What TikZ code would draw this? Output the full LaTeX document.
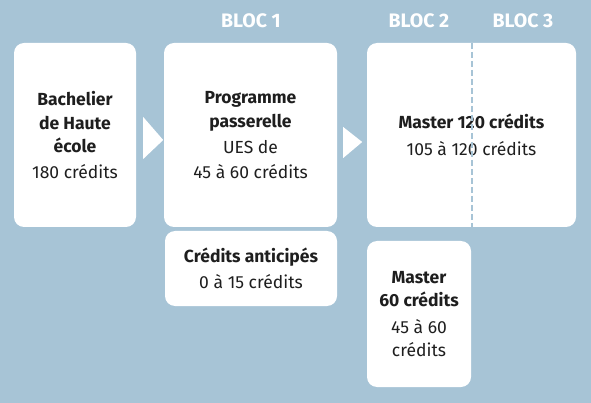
\documentclass[tikz,border=0pt]{standalone}
\usepackage{fontspec}
\setmainfont{Fira Sans}
\usetikzlibrary{calc}
\definecolor{bgblue}{HTML}{A7C4D6}
\definecolor{txt}{HTML}{1E1E1E}
\begin{document}
\begin{tikzpicture}[x=1pt,y=-1pt,
  card/.style={draw=none,fill=white,rounded corners=10pt,inner sep=0pt,align=center,text=txt,font=\fontsize{17.5}{23.5}\selectfont},
  bloc/.style={text=white,font=\bfseries\fontsize{19.5}{20}\selectfont,inner sep=0pt},
  tri/.style={fill=white,draw=none},
  divider/.style={draw=bgblue,line width=1.6pt,dash pattern=on 6pt off 3pt}]
\fill[bgblue] (0,0) rectangle (591,403);
\useasboundingbox (0,0) rectangle (591,403);
% boxes
\node[card,minimum width=122pt,minimum height=184pt] (bach) at (75,135)
  {\textbf{Bachelier}\\\textbf{de Haute}\\\textbf{école}\\[2pt]180 crédits};
\node[card,minimum width=173pt,minimum height=184pt] (pp) at (250.5,135)
  {\textbf{Programme}\\\textbf{passerelle}\\[3pt]UES de\\[1pt]45 à 60 crédits};
\node[card,minimum width=209pt,minimum height=184pt] (m120) at (471.5,135)
  {\textbf{Master 120 crédits}\\[3pt]105 à 120 crédits};
\node[card,minimum width=172pt,minimum height=75pt] (anti) at (251,268.5)
  {\textbf{Crédits anticipés}\\[3pt]0 à 15 crédits};
\node[card,minimum width=104pt,minimum height=146pt] (m60) at (419,314)
  {\textbf{Master}\\\textbf{60 crédits}\\[3pt]45 à 60\\crédits};
% dashed divider
\coordinate (dtop) at ($(m120.north)+(0.5,0)$);
\coordinate (dbot) at ($(m120.south)+(0.5,0)$);
\draw[divider] (dtop) -- (dbot);
% arrows
\fill[tri] ($(bach.east)+(7,-18)$) -- ($(bach.east)+(27,5)$) -- ($(bach.east)+(7,24)$) -- cycle;
\fill[tri] ($(pp.east)+(6,-8)$) -- ($(pp.east)+(25,7)$) -- ($(pp.east)+(6,23)$) -- cycle;
% bloc labels
\node[bloc] (b1) at (251,21) {BLOC 1};
\node[bloc] (b2) at (419,21) {BLOC 2};
\node[bloc] (b3) at (523,21) {BLOC 3};
\end{tikzpicture}
\end{document}
